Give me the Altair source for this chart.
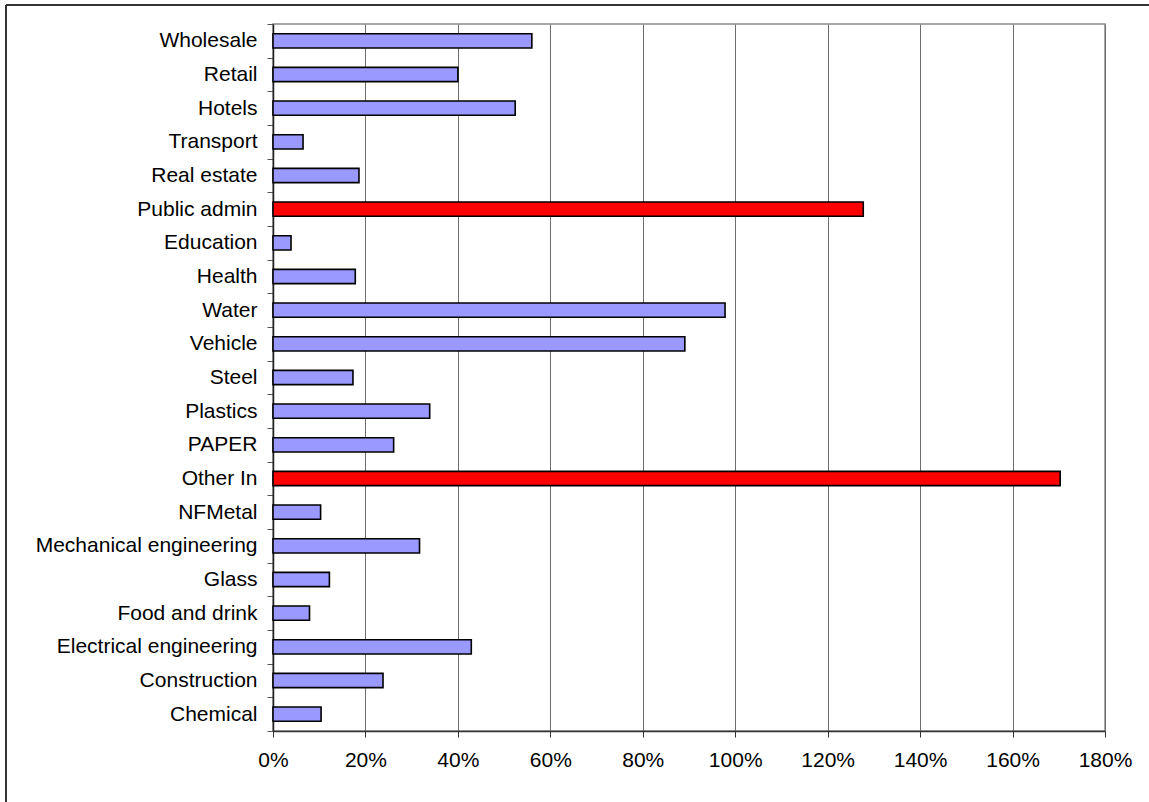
import altair as alt
import pandas as pd

# Sectors, top to bottom
sectors = [
    "Wholesale", "Retail", "Hotels", "Transport", "Real estate", "Public admin",
    "Education", "Health", "Water", "Vehicle", "Steel", "Plastics", "PAPER",
    "Other In", "NFMetal", "Mechanical engineering", "Glass", "Food and drink",
    "Electrical engineering", "Construction", "Chemical",
]
# Share per sector (fraction, shown as percent)
shares = [
    0.56, 0.40, 0.524, 0.065, 0.186, 1.277,
    0.039, 0.178, 0.978, 0.891, 0.173, 0.339, 0.261,
    1.703, 0.103, 0.317, 0.122, 0.079,
    0.429, 0.238, 0.104,
]
highlighted = ["Public admin", "Other In"]
tick_values = [0, 0.2, 0.4, 0.6, 0.8, 1.0, 1.2, 1.4, 1.6, 1.8]

df = pd.DataFrame({"sector": sectors, "share": shares})
df["group"] = ["highlight" if s in highlighted else "normal" for s in sectors]

FONT = "Liberation Sans"

bars = alt.Chart(df).mark_bar(
    height=alt.RelativeBandSize(0.425),
    stroke="black",
    strokeWidth=1.6,
).encode(
    y=alt.Y(
        "sector:N",
        sort=sectors,
        title=None,
        scale=alt.Scale(paddingInner=0, paddingOuter=0),
        axis=alt.Axis(
            tickBand="extent",
            tickSize=6,
            tickColor="#555555",
            domainColor="#222222",
            domainWidth=1.5,
            labelPadding=10,
            labelLimit=0,
            labelFont=FONT,
            labelFontSize=21,
            labelColor="black",
            grid=False,
        ),
    ),
    x=alt.X(
        "share:Q",
        title=None,
        scale=alt.Scale(domain=[0, 1.8], nice=False),
        axis=alt.Axis(
            values=tick_values,
            format=".0%",
            grid=True,
            gridColor="#6e6e6e",
            gridWidth=1,
            tickSize=6,
            tickColor="#333333",
            domainColor="#333333",
            domainWidth=1.5,
            labelPadding=12,
            labelFont=FONT,
            labelFontSize=21,
            labelColor="black",
            labelFlush=False,
        ),
    ),
    color=alt.Color(
        "group:N",
        scale=alt.Scale(domain=["normal", "highlight"], range=["#9999FF", "#FF0000"]),
        legend=None,
    ),
)

# Outer chart frame (top and left edges)
frame = pd.DataFrame({"k": [0]})
top_edge = alt.Chart(frame).mark_rule(color="#333333", strokeWidth=2).encode(
    x=alt.value(-267), x2=alt.value(880), y=alt.value(-19)
)
left_edge = alt.Chart(frame).mark_rule(color="#333333", strokeWidth=2).encode(
    x=alt.value(-267), y=alt.value(-19), y2=alt.value(790)
)

chart = alt.layer(bars, top_edge, left_edge).properties(
    width=832,
    height=707,
    autosize=alt.AutoSizeParams(type="none"),
    padding={"left": 273, "top": 24, "right": 44, "bottom": 71},
    background="white",
).configure_view(
    stroke="#8a8a8a",
    strokeWidth=1.5,
)

chart.save("out.html", embed_options={"renderer": "svg", "actions": False})
